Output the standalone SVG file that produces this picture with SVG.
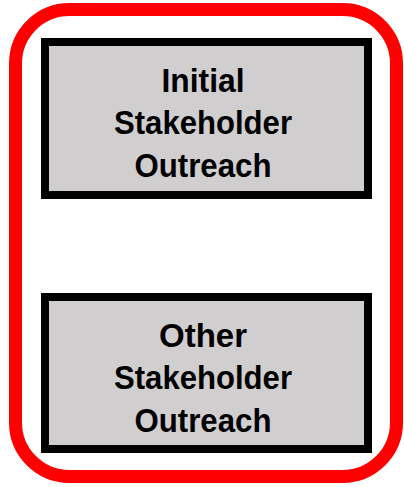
<svg xmlns="http://www.w3.org/2000/svg" width="404" height="487" viewBox="0 0 404 487">
<style>
.box{fill:#D0CECE;stroke:#000;stroke-width:8}
.t{font-family:"Liberation Sans",Arial,sans-serif;font-weight:bold;font-size:33px;fill:#000;text-anchor:middle}
</style>
<rect x="15.5" y="9.5" width="381" height="467" rx="54" ry="54" fill="none" stroke="#FF0000" stroke-width="13"/>
<g id="node1">
<rect class="box" x="45" y="42" width="323" height="153"/>
<text class="t" x="203" y="92" textLength="83" lengthAdjust="spacingAndGlyphs">Initial</text>
<text class="t" x="203" y="134" textLength="178" lengthAdjust="spacingAndGlyphs">Stakeholder</text>
<text class="t" x="203" y="177" textLength="137" lengthAdjust="spacingAndGlyphs">Outreach</text>
</g>
<g id="node2">
<rect class="box" x="45" y="297" width="323" height="152"/>
<text class="t" x="203" y="347" textLength="88" lengthAdjust="spacingAndGlyphs">Other</text>
<text class="t" x="203" y="389" textLength="178" lengthAdjust="spacingAndGlyphs">Stakeholder</text>
<text class="t" x="203" y="432" textLength="137" lengthAdjust="spacingAndGlyphs">Outreach</text>
</g>
<g id="connectors"></g>
</svg>
